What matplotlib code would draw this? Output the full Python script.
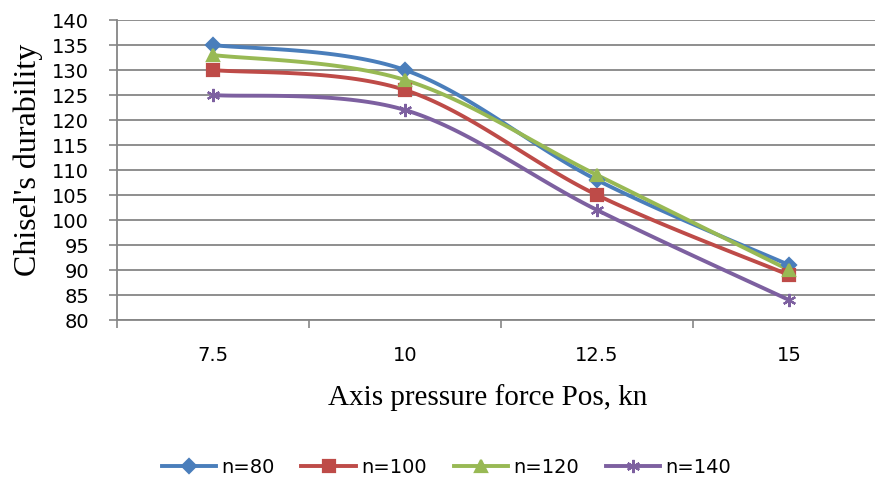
import numpy as np
import matplotlib.pyplot as plt

# data
pressure = ["7.5", "10", "12.5", "15"]
n80 = [135, 130, 108, 91]
n100 = [130, 126, 105, 89]
n120 = [133, 128, 109, 90]
n140 = [125, 122, 102, 84]

labels = ["n=80", "n=100", "n=120", "n=140"]
colors = ["#4A7EBB", "#BE4B48", "#98B954", "#7D60A0"]
markers = ["D", "s", "^", (6, 2, 0)]
msizes = [7.5, 8.5, 8.5, 9.5]


def smooth(xs, ys, steps=40):
    # Excel style smoothed line: cubic bezier through points
    xs = np.asarray(xs, float)
    ys = np.asarray(ys, float)
    px = np.concatenate([[xs[0]], xs, [xs[-1]]])
    py = np.concatenate([[ys[0]], ys, [ys[-1]]])
    t = np.linspace(0, 1, steps)
    outx, outy = [], []
    for i in range(1, len(px) - 2):
        p0x, p1x, p2x, p3x = px[i - 1], px[i], px[i + 1], px[i + 2]
        p0y, p1y, p2y, p3y = py[i - 1], py[i], py[i + 1], py[i + 2]
        c1x, c1y = p1x + (p2x - p0x) / 6, p1y + (p2y - p0y) / 6
        c2x, c2y = p2x - (p3x - p1x) / 6, p2y - (p3y - p1y) / 6
        bx = (1 - t) ** 3 * p1x + 3 * (1 - t) ** 2 * t * c1x + 3 * (1 - t) * t ** 2 * c2x + t ** 3 * p2x
        by = (1 - t) ** 3 * p1y + 3 * (1 - t) ** 2 * t * c1y + 3 * (1 - t) * t ** 2 * c2y + t ** 3 * p2y
        outx.extend(bx)
        outy.extend(by)
    return outx, outy


fig = plt.figure(figsize=(8.75, 4.85), dpi=100)
ax = fig.add_axes([117 / 875, 1 - 321 / 485, (885 - 117) / 875, 300 / 485])

x = np.arange(len(pressure))
handles = []
for vals, lab, c, m, ms in zip([n80, n100, n120, n140], labels, colors, markers, msizes):
    sx, sy = smooth(x, vals)
    ax.plot(sx, sy, color=c, lw=2.8, zorder=3, solid_capstyle="round")
    ax.plot(x, vals, ls="none", marker=m, ms=ms, color=c, mec=c, mew=1.6, zorder=4)
    h, = ax.plot([], [], color=c, lw=2.8, marker=m, ms=ms, mec=c, mew=1.6, label=lab)
    handles.append(h)

ax.set_xlim(-0.5, 3.5)
ax.set_ylim(80, 140)
ax.set_yticks(np.arange(80, 141, 5))
ax.set_xticks(x)
ax.set_xticklabels(pressure)
ax.set_xticks(np.arange(-0.5, 3.6, 1), minor=True)
ax.tick_params(axis="x", which="major", length=0, pad=18, labelsize=14)
ax.tick_params(axis="x", which="minor", length=6, color="#868686", width=1.2, direction="out")
ax.tick_params(axis="y", length=6, color="#868686", width=1.2, labelsize=14, pad=14)

ax.grid(axis="y", color="#868686", lw=1.3)
ax.set_axisbelow(True)
for s in ["top", "right"]:
    ax.spines[s].set_visible(False)
for s in ["left", "bottom"]:
    ax.spines[s].set_color("#868686")
    ax.spines[s].set_linewidth(1.3)

fig.text(28 / 875, 1 - 160 / 485, "Chisel's durability", family="Liberation Serif",
         fontsize=23, rotation=90, ha="center", va="center")
fig.text(0.557, 1 - 398 / 485, "Axis pressure force Pos, kn", family="Liberation Serif",
         fontsize=21, ha="center", va="center")

fig.legend(handles=handles, loc="center", bbox_to_anchor=(0.510, 1 - 468 / 485), ncol=4,
           frameon=False, handlelength=2.8, columnspacing=1.4, handletextpad=0.25,
           prop={"size": 14})

fig.savefig("out.png", dpi=100)
